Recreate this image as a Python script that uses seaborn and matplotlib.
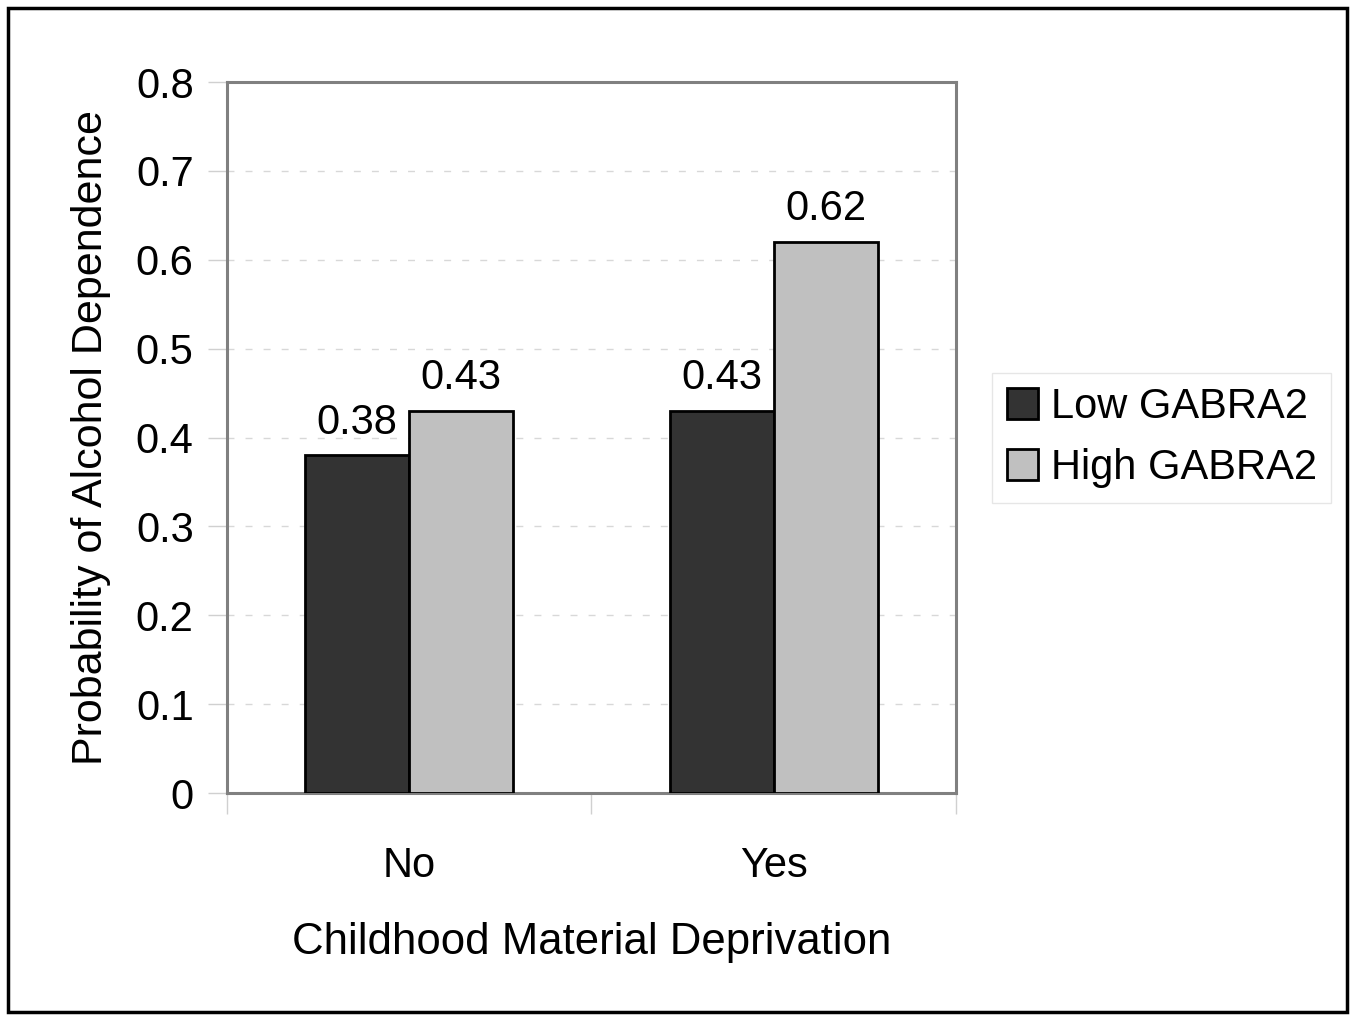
"""Probability of alcohol dependence by childhood deprivation and GABRA2 genotype."""

import matplotlib
matplotlib.use("Agg")
import matplotlib.pyplot as plt
import matplotlib.patches as mpatches
import pandas as pd
import seaborn as sns

categories = ["No", "Yes"]
groups = ["Low GABRA2", "High GABRA2"]
low_values = [0.38, 0.43]
high_values = [0.43, 0.62]
y_ticks = [0, 0.1, 0.2, 0.3, 0.4, 0.5, 0.6, 0.7, 0.8]
y_tick_labels = ["0", "0.1", "0.2", "0.3", "0.4", "0.5", "0.6", "0.7", "0.8"]


def build_frame() -> pd.DataFrame:
    rows = []
    for cat, lo, hi in zip(categories, low_values, high_values):
        rows.append({"Deprivation": cat, "Genotype": groups[0], "Prob": lo})
        rows.append({"Deprivation": cat, "Genotype": groups[1], "Prob": hi})
    return pd.DataFrame(rows)


def plot(df: pd.DataFrame) -> None:
    sns.set_style("white")
    plt.rcParams["font.family"] = ["Liberation Sans", "DejaVu Sans"]
    plt.rcParams["text.color"] = "black"
    plt.rcParams["axes.labelcolor"] = "black"
    plt.rcParams["xtick.labelcolor"] = "black"
    plt.rcParams["ytick.labelcolor"] = "black"

    fig = plt.figure(figsize=(13.55, 10.15), dpi=100)
    ax = fig.add_axes([0.1675, 0.2187, 0.538, 0.7005])

    palette = {groups[0]: "#333333", groups[1]: "#c0c0c0"}
    sns.barplot(data=df, x="Deprivation", y="Prob", hue="Genotype",
                order=categories, hue_order=groups, palette=palette,
                width=0.57, gap=0, edgecolor="black", linewidth=2,
                saturation=1, ax=ax, zorder=3)

    # value labels over each bar
    for container in ax.containers:
        ax.bar_label(container, labels=[f"{v:.2f}" for v in container.datavalues],
                     padding=9, fontsize=30)

    ax.set_xlim(-0.5, 1.5)
    ax.set_ylim(0, 0.8)
    ax.set_yticks(y_ticks)
    ax.set_yticklabels(y_tick_labels)
    ax.tick_params(axis="y", left=True, labelsize=30, length=14, color="#d0d0d0",
                   width=1, pad=10)
    ax.tick_params(axis="x", bottom=True, labelsize=30, length=0, pad=38)
    ax.set_xticks([-0.5, 0.5, 1.5], minor=True)
    ax.tick_params(axis="x", which="minor", bottom=True, length=15, color="#d0d0d0", width=1)

    ax.yaxis.grid(True, color="#d8d8d8", linestyle=(0, (5, 8)), linewidth=1)
    ax.set_axisbelow(True)

    for spine in ax.spines.values():
        spine.set_color("#808080")
        spine.set_linewidth(2.2)
        spine.set_visible(True)

    ax.set_xlabel("Childhood Material Deprivation", fontsize=31.5, labelpad=26)
    ax.set_ylabel("Probability of Alcohol Dependence", fontsize=31, labelpad=18)

    handles = [mpatches.Patch(facecolor=palette[g], edgecolor="black", linewidth=2, label=g)
               for g in groups]
    leg = ax.legend(handles=handles, loc="center left", bbox_to_anchor=(1.05, 0.5),
                    fontsize=30, frameon=True, fancybox=False, handlelength=0.75,
                    handleheight=0.75, handletextpad=0.3, labelspacing=0.5,
                    borderpad=0.35, borderaxespad=0)
    leg.get_frame().set_edgecolor("#e0e0e0")
    leg.get_frame().set_linewidth(1)

    # outer frame around the whole picture
    fig.patches.append(mpatches.Rectangle((0.006, 0.003), 0.988, 0.989,
                                          transform=fig.transFigure, fill=False,
                                          edgecolor="black", linewidth=2.5))

    fig.savefig("out.png", dpi=100)
    plt.close(fig)


if __name__ == "__main__":
    plot(build_frame())
